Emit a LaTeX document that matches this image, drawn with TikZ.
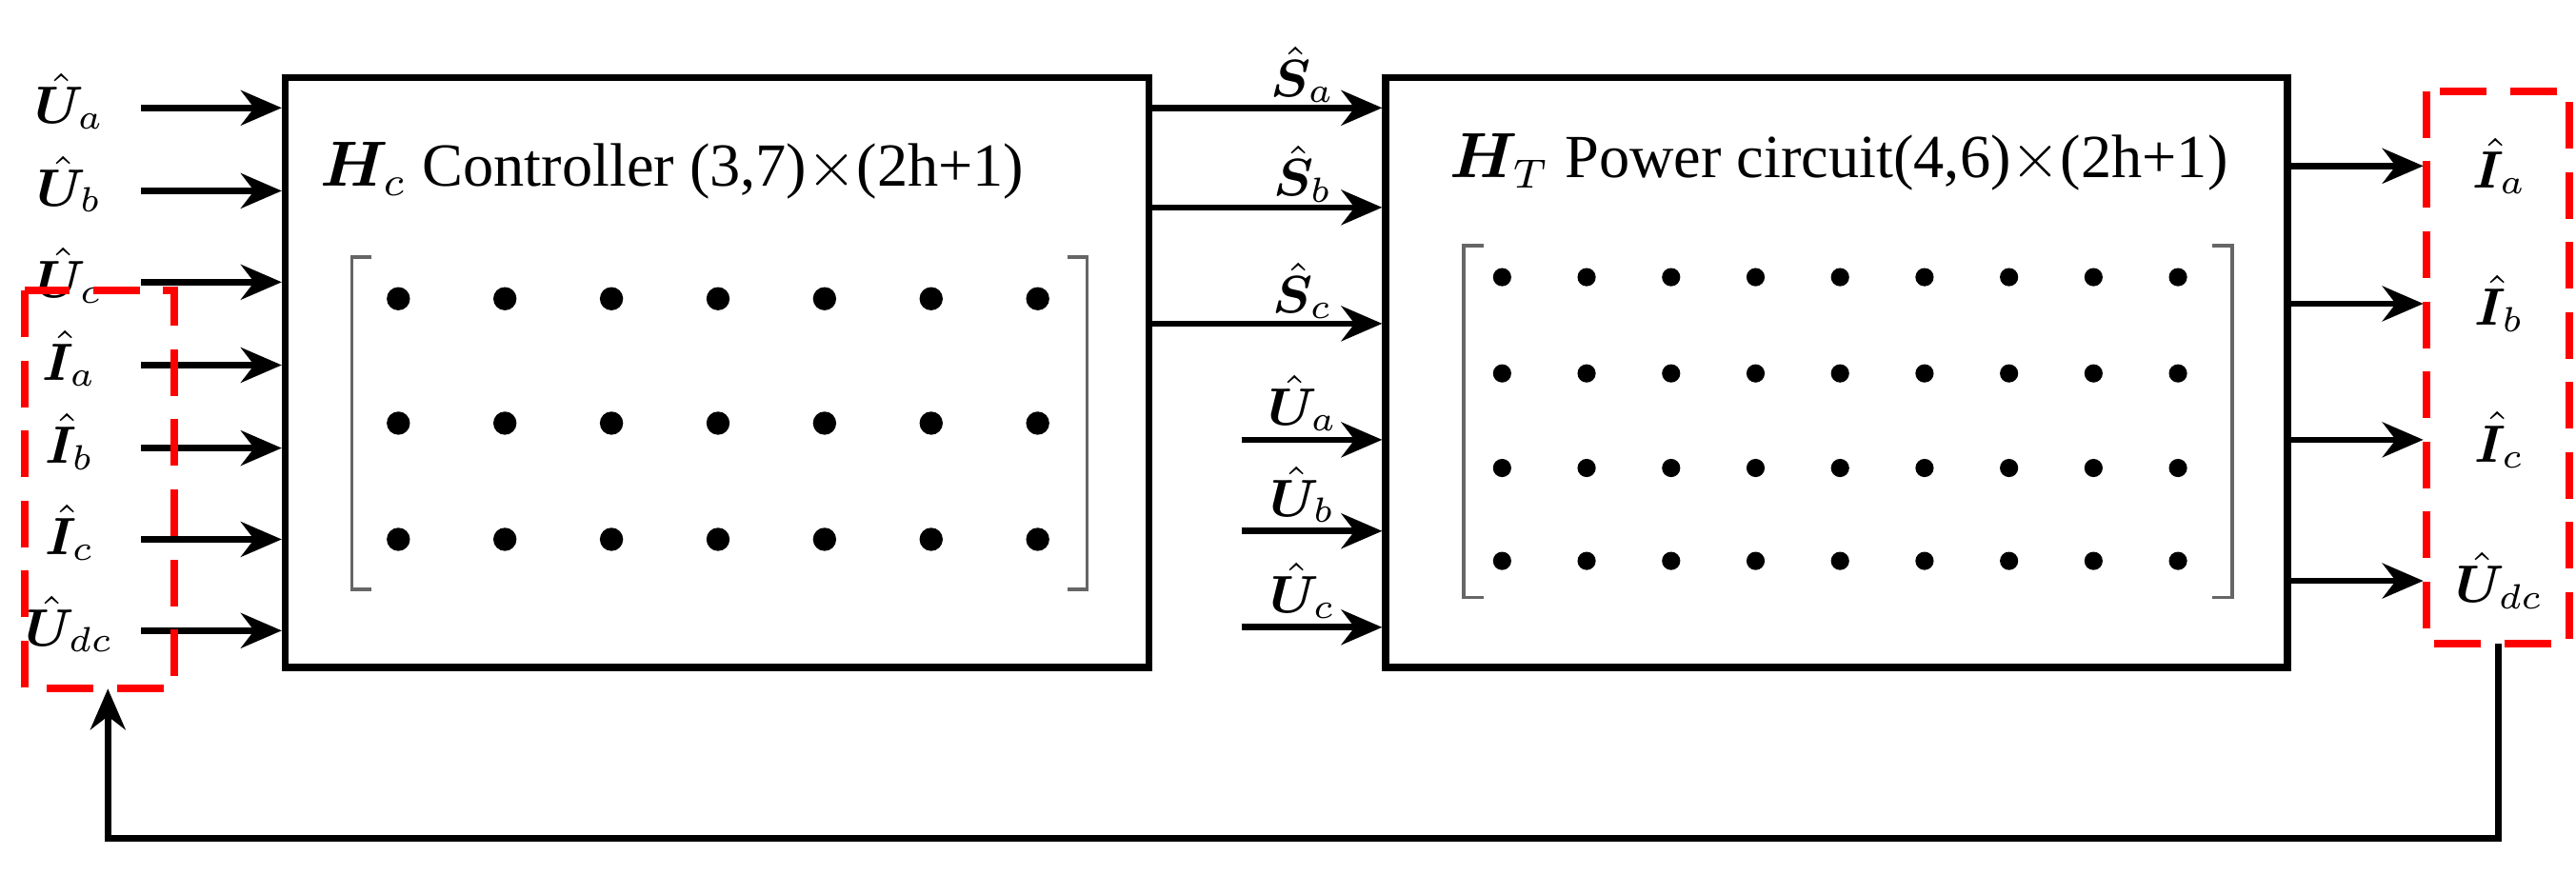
\documentclass[tikz,border=0pt]{standalone}
\usepackage{amsmath,bm}
\usepackage{fontspec}
\setmainfont{Liberation Serif}
\usetikzlibrary{arrows.meta,positioning}
\tikzset{
  blk/.style={draw, line width=1.2pt, inner sep=0pt},
  sig/.style={line width=1.1pt, -{Stealth[length=7pt,width=6pt]}},
  lbl/.style={font=\fontsize{9}{11}\selectfont, inner sep=1pt},
  grp/.style={draw=red, dashed, line width=1.3pt, dash pattern=on 8pt off 4pt},
  brk/.style={draw=gray!80!black, line width=0.6pt},
  ttl/.style={font=\fontsize{10.5}{12}\selectfont},
}
\newcommand{\sg}[2]{$\hat{\bm{#1}}_{#2}$}
\begin{document}
\begin{tikzpicture}[x=0.01cm, y=-0.01cm]
\useasboundingbox (0,0) rectangle (1552,527);

% blocks
\node[blk, minimum width=5.2cm, minimum height=3.55cm] (ctrl) at (432,224.5) {};
\node[blk, minimum width=5.43cm, minimum height=3.55cm] (pwr) at (1106.5,224.5) {};

\node[ttl] (tc) at (405,103) {$\bm{H}_c$ Controller (3,7)$\times$(2h+1)};
\node[ttl] (tp) at (1108,98) {$\bm{H}_T$ Power circuit(4,6)$\times$(2h+1)};

% matrices
\draw[brk] (224,155) -- (212,155) -- (212,355) -- (224,355);
\draw[brk] (643,155) -- (655,155) -- (655,355) -- (643,355);
\foreach \r in {180,255,325}
  \foreach \c in {0,...,6}
    \fill (240+\c*64.2,\r) circle (7);
\draw[brk] (894,148) -- (882,148) -- (882,360) -- (894,360);
\draw[brk] (1333,148) -- (1345,148) -- (1345,360) -- (1333,360);
\foreach \r in {167,225,282,338}
  \foreach \c in {0,...,8}
    \fill (905+\c*50.9,\r) circle (5.5);

% controller inputs
\foreach \y/\s/\n [count=\i] in {65/U/a,115/U/b,170/U/c,220/I/a,270/I/b,325/I/c,380/U/dc}{
  \node[lbl] (in\i) at (42,\y-4) {\sg{\s}{\n}};
  \coordinate (a\i) at (85,\y);
  \draw[sig] (a\i) -- (a\i -| ctrl.west);
}
\draw[grp] (15,175) rectangle (105,415);

% controller outputs
\foreach \y/\n [count=\i] in {65/a,125/b,195/c}{
  \coordinate (s\i) at (ctrl.east |- {(0,\y)});
  \draw[sig] (s\i) -- (s\i -| pwr.west);
  \node[lbl] (sl\i) at (785,\y-20) {\sg{S}{\n}};
}
\foreach \y/\n [count=\i] in {265/a,320/b,378/c}{
  \coordinate (u\i) at (748,\y);
  \draw[sig] (u\i) -- (u\i -| pwr.west);
  \node[lbl] (ul\i) at (785,\y-22) {\sg{U}{\n}};
}

% power outputs
\foreach \y/\s/\n [count=\i] in {100/I/a,183/I/b,265/I/c,350/U/dc}{
  \coordinate (o\i) at (pwr.east |- {(0,\y)});
  \draw[sig] (o\i) -- (1460,\y);
  \node[lbl] (out\i) at (1506,\y) {\sg{\s}{\n}};
}
\draw[grp] (1462,55) rectangle (1548,388);

% feedback
\coordinate (fb0) at (1505,388);
\coordinate (fb1) at (65,415);
\draw[sig] (fb0) -- (1505,505) -- (65,505) -- (fb1);
\end{tikzpicture}
\end{document}
